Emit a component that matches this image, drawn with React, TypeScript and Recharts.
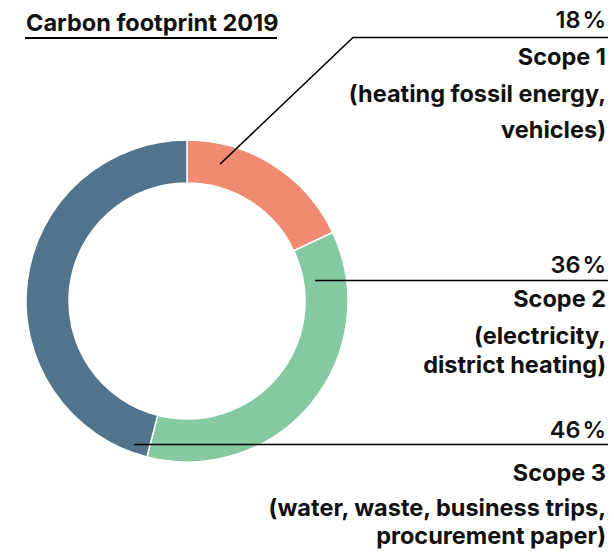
import { PieChart, Pie, Cell } from 'recharts'

const scopes = ['Scope 1', 'Scope 2', 'Scope 3']
const shares = [18, 36, 46]
const details = [
  ['(heating fossil energy,', 'vehicles)'],
  ['(electricity,', 'district heating)'],
  ['(water, waste, business trips,', 'procurement paper)'],
]

const data = scopes.map((name, i) => ({ name, value: shares[i], details: details[i] }))

const COLORS = ['#F08A70', '#85C9A0', '#52738C']
const FONT = 'Inter, "Liberation Sans", Arial, sans-serif'
const SIZE = 23.5
const RIGHT = 606

// where each leader line leaves its slice and where its label rows sit
const LEADERS = [
  { frac: 0.21, r: 141, elbowX: 353, lineY: 37.5, pctY: 28, rows: [65, 102, 138] },
  { frac: 0.121, r: 130, elbowX: null, lineY: 280.5, pctY: 272.5, rows: [307, 344, 373] },
  { frac: 0.036, r: 152.5, elbowX: null, lineY: 444.5, pctY: 437.5, rows: [481, 516, 544] },
]

const RAD = Math.PI / 180

function renderLabel(props: any) {
  const { cx, cy, startAngle, endAngle, index, value, name, payload } = props
  const lead = LEADERS[index]
  const angle = startAngle + (endAngle - startAngle) * lead.frac
  const sx = cx + lead.r * Math.cos(-angle * RAD)
  const sy = cy + lead.r * Math.sin(-angle * RAD)
  const pts = lead.elbowX
    ? `${sx},${sy} ${lead.elbowX},${lead.lineY} ${RIGHT + 2},${lead.lineY}`
    : `${sx},${lead.lineY} ${RIGHT + 2},${lead.lineY}`
  const lines: string[] = [name, ...(payload?.details ?? details[index])]
  return (
    <g key={`label-${index}`}>
      <polyline points={pts} fill="none" stroke="#000" strokeWidth={1.6} />
      <text x={RIGHT} y={lead.pctY} textAnchor="end" fontFamily={FONT} fontSize={SIZE} fontWeight={600} fill="#111">
        {`${value}\u200A%`}
      </text>
      {lines.map((t, j) => (
        <text
          key={t}
          x={RIGHT}
          y={lead.rows[j]}
          textAnchor="end"
          fontFamily={FONT}
          fontSize={SIZE}
          fontWeight={700}
          fill="#111"
        >
          {t}
        </text>
      ))}
    </g>
  )
}

export default function App() {
  return (
    <div style={{ position: 'absolute', left: 0, top: 0, width: 614, height: 556, background: '#fff' }}>
      <svg width={614} height={50} style={{ position: 'absolute', left: 0, top: 0 }}>
        <text x={26} y={30.5} fontFamily={FONT} fontSize={SIZE} fontWeight={700} fill="#111">
          Carbon footprint 2019
        </text>
        <line x1={25} x2={277} y1={38} y2={38} stroke="#000" strokeWidth={1.8} />
      </svg>
      <PieChart width={614} height={556} margin={{ top: 0, right: 0, bottom: 0, left: 0 }}>
        <Pie
          data={data}
          dataKey="value"
          nameKey="name"
          cx={187}
          cy={301}
          innerRadius={118}
          outerRadius={161}
          startAngle={90}
          endAngle={-270}
          stroke="#fff"
          strokeWidth={1.5}
          label={renderLabel}
          labelLine={false}
          isAnimationActive={false}
        >
          {data.map((d, i) => (
            <Cell key={d.name} fill={COLORS[i]} />
          ))}
        </Pie>
      </PieChart>
    </div>
  )
}
